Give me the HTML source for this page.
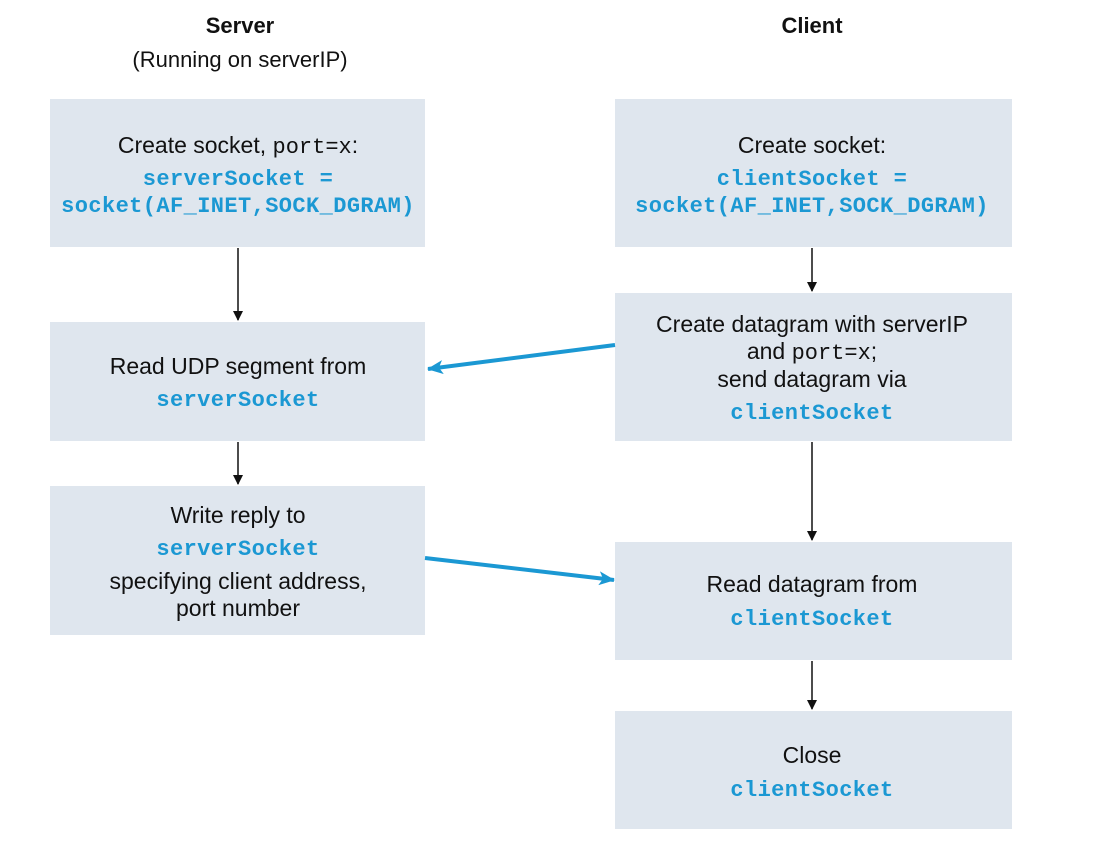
<!DOCTYPE html>
<html><head><style>body{margin:0;background:#fff}</style></head><body>
<svg width="1105" height="843" xmlns="http://www.w3.org/2000/svg" font-family="Liberation Sans, sans-serif" font-size="23" text-anchor="middle">
<defs>
<marker id="k" markerWidth="10" markerHeight="10" refX="9" refY="5" orient="auto" markerUnits="userSpaceOnUse"><path d="M0,0 L10,5 L0,10 Z" fill="#111"/></marker>
<marker id="b" markerWidth="16" markerHeight="14" refX="15" refY="7" orient="auto" markerUnits="userSpaceOnUse"><path d="M0,0 L16,7 L0,14 L4,7 Z" fill="#1b98d3"/></marker>
</defs>
<g fill="#dfe6ee">
<rect x="50" y="99" width="375" height="148"/>
<rect x="50" y="322" width="375" height="119"/>
<rect x="50" y="486" width="375" height="149"/>
<rect x="615" y="99" width="397" height="148"/>
<rect x="615" y="293" width="397" height="148"/>
<rect x="615" y="542" width="397" height="118"/>
<rect x="615" y="711" width="397" height="118"/>
</g>
<g fill="#111">
<text x="240" y="33" font-weight="bold" font-size="22">Server</text>
<text x="240" y="67" font-size="22">(Running on serverIP)</text>
<text x="812" y="33" font-weight="bold" font-size="22">Client</text>
<text x="238" y="153">Create  socket, <tspan font-family="Liberation Mono, monospace" font-size="22">port=x</tspan>:</text>
<text x="238" y="374">Read UDP segment from</text>
<text x="238" y="523">Write reply to</text>
<text x="238" y="589">specifying client address,</text>
<text x="238" y="616">port number</text>
<text x="812" y="153">Create socket:</text>
<text x="812" y="332">Create datagram with serverIP</text>
<text x="812" y="359">and <tspan font-family="Liberation Mono, monospace" font-size="22">port=x</tspan>;</text>
<text x="812" y="387">send datagram via</text>
<text x="812" y="592">Read datagram from</text>
<text x="812" y="763">Close</text>
</g>
<g fill="#1b98d3" font-family="Liberation Mono, monospace" font-weight="bold" font-size="22" letter-spacing="0.4">
<text x="238" y="185">serverSocket =</text>
<text x="238" y="212">socket(AF_INET,SOCK_DGRAM)</text>
<text x="238" y="406">serverSocket</text>
<text x="238" y="555">serverSocket</text>
<text x="812" y="185">clientSocket =</text>
<text x="812" y="212">socket(AF_INET,SOCK_DGRAM)</text>
<text x="812" y="419">clientSocket</text>
<text x="812" y="625">clientSocket</text>
<text x="812" y="796">clientSocket</text>
</g>
<g stroke="#111" stroke-width="1.5" marker-end="url(#k)">
<line x1="238" y1="248" x2="238" y2="320"/>
<line x1="238" y1="442" x2="238" y2="484"/>
<line x1="812" y1="248" x2="812" y2="291"/>
<line x1="812" y1="442" x2="812" y2="540"/>
<line x1="812" y1="661" x2="812" y2="709"/>
</g>
<g stroke="#1b98d3" stroke-width="4" marker-end="url(#b)">
<line x1="615" y1="345" x2="428" y2="369"/>
<line x1="425" y1="558" x2="614" y2="580"/>
</g>
</svg>
</body></html>
